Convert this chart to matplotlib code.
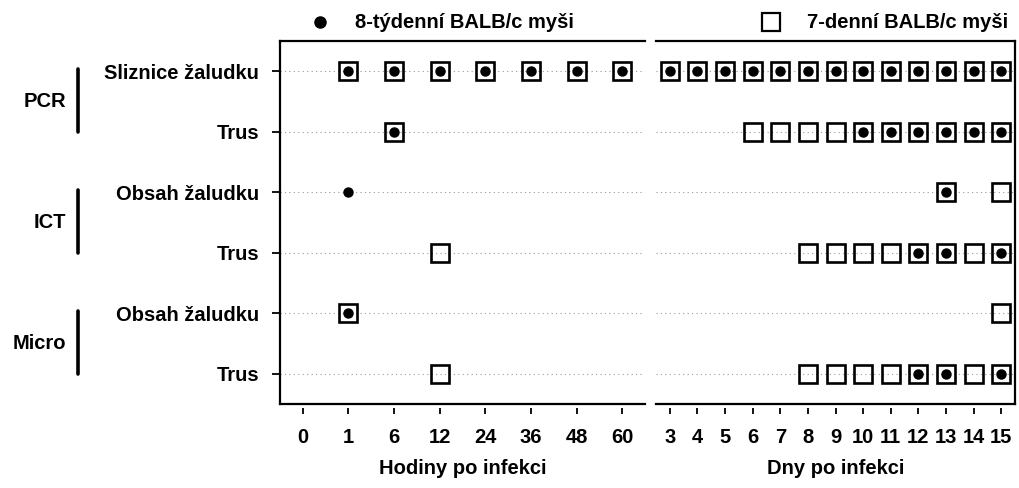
import matplotlib
matplotlib.use("Agg")
from matplotlib import pyplot as plt
from matplotlib import transforms

plt.rcParams['font.family'] = ['Liberation Sans', 'DejaVu Sans']
plt.rcParams['font.weight'] = 'bold'

rows = ['Sliznice žaludku', 'Trus', 'Obsah žaludku', 'Trus', 'Obsah žaludku', 'Trus']
groups = ['PCR', 'ICT', 'Micro']

hour_labels = ['0', '1', '6', '12', '24', '36', '48', '60']
day_labels = [3, 4, 5, 6, 7, 8, 9, 10, 11, 12, 13, 14, 15]

# 8-week mice (dots), per row
hours_8w = [['1', '6', '12', '24', '36', '48', '60'], ['6'], ['1'], [], ['1'], []]
days_8w = [[3, 4, 5, 6, 7, 8, 9, 10, 11, 12, 13, 14, 15],
           [10, 11, 12, 13, 14, 15],
           [13],
           [12, 13, 15],
           [],
           [12, 13, 15]]

# 7-day mice (squares), per row
hours_7d = [['1', '6', '12', '24', '36', '48', '60'], ['6'], [], ['12'], ['1'], ['12']]
days_7d = [[3, 4, 5, 6, 7, 8, 9, 10, 11, 12, 13, 14, 15],
           [6, 7, 8, 9, 10, 11, 12, 13, 14, 15],
           [13, 15],
           [8, 9, 10, 11, 12, 13, 14, 15],
           [15],
           [8, 9, 10, 11, 12, 13, 14, 15]]

fig = plt.figure(figsize=(10.2, 4.88), dpi=100)
ax1 = fig.add_axes([280/1020, 1-404/488, 365/1020, 363/488])
ax2 = fig.add_axes([656/1020, 1-404/488, 359/1020, 363/488])

fs = 14.5
sq = dict(marker='s', ms=12.5, mfc='none', mec='black', mew=1.9, ls='none')
dot = dict(marker='o', ms=6.5, color='black', ls='none')

def draw(ax, xs_sq, xs_dot, pos):
    for i in range(len(rows)):
        ax.axhline(i, color='#999999', lw=0.8, ls=(0, (1, 3)), zorder=0)
        if xs_sq[i]:
            ax.plot([pos(x) for x in xs_sq[i]], [i] * len(xs_sq[i]), **sq)
        if xs_dot[i]:
            ax.plot([pos(x) for x in xs_dot[i]], [i] * len(xs_dot[i]), **dot)
    ax.set_ylim(5.5, -0.5)
    ax.spines['bottom'].set_position(('outward', 3))
    ax.spines['bottom'].set_color('none')
    ax.plot([0, 1], [0, 0], transform=ax.transAxes, color='black', lw=1.6, clip_on=False)
    ax.tick_params(axis='x', length=4, width=1.3, pad=10, labelsize=fs)
    for s in ['top', 'left', 'right']:
        ax.spines[s].set_linewidth(1.6)

draw(ax1, hours_7d, hours_8w, lambda h: hour_labels.index(h))
ax1.set_xlim(-0.5, 7.5)
ax1.set_xticks(range(len(hour_labels)))
ax1.set_xticklabels(hour_labels)
ax1.spines['right'].set_visible(False)
ax1.set_yticks(range(len(rows)))
ax1.set_yticklabels(rows, fontsize=fs)
ax1.tick_params(axis='y', length=6, width=1.3, pad=9)
ax1.set_xlabel('Hodiny po infekci', fontsize=fs, fontweight='bold', labelpad=9)

draw(ax2, days_7d, days_8w, lambda d: d)
ax2.set_xlim(2.5, 15.5)
ax2.set_xticks(day_labels)
ax2.set_xticklabels([str(d) for d in day_labels])
ax2.spines['left'].set_visible(False)
ax2.set_yticks([])
ax2.set_xlabel('Dny po infekci', fontsize=fs, fontweight='bold', labelpad=9)

# group labels with vertical bars
trans = transforms.blended_transform_factory(fig.transFigure, ax1.transData)
for g, name in enumerate(groups):
    r = 2 * g
    ax1.plot([78/1020, 78/1020], [r - 0.03, r + 1.0], transform=trans,
             color='black', lw=2.6, solid_capstyle='round', clip_on=False)
    ax1.text(66/1020, r + 0.5, name, transform=trans, ha='right', va='center',
             fontsize=fs, fontweight='bold')

# legend entries above panels
ax1.plot([320/1020], [1-22/488], transform=fig.transFigure, marker='o', ms=8,
         color='black', clip_on=False)
fig.text(355/1020, 1-22/488, '8-týdenní BALB/c myši', fontsize=fs,
         fontweight='bold', va='center', ha='left')
ax2.plot([771/1020], [1-22/488], transform=fig.transFigure, marker='s', ms=12.5,
         mfc='white', mec='black', mew=1.6, clip_on=False)
fig.text(807/1020, 1-22/488, '7-denní BALB/c myši', fontsize=fs,
         fontweight='bold', va='center', ha='left')

fig.savefig('out.png', dpi=100)
